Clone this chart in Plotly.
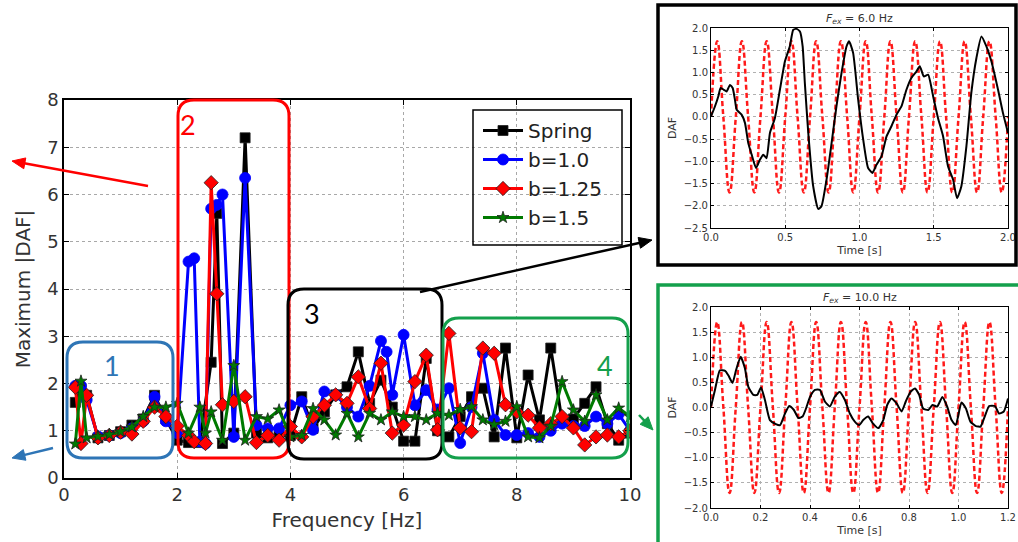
import math
import plotly.graph_objects as go

# ---------------------------------------------------------------- data
freq_hz = [0.2, 0.3, 0.4, 0.6, 0.8, 1.0, 1.2, 1.4, 1.6, 1.8, 2.0,
           2.1, 2.2, 2.3, 2.4, 2.5, 2.6, 2.7, 2.8, 2.9, 3.0, 3.1, 3.2, 3.3, 3.4,
           3.6, 3.8, 4.0, 4.2, 4.4, 4.6, 4.8, 5.0, 5.2, 5.4, 5.6, 5.7,
           5.8, 6.0, 6.2, 6.4, 6.6, 6.8, 7.0, 7.2, 7.4, 7.6, 7.8, 8.0,
           8.2, 8.4, 8.6, 8.8, 9.0, 9.2, 9.4, 9.6, 9.8, 10.0]

N = None
daf_spring = [1.6, 1.9, 1.75, 0.85, 0.9, 0.98, 1.12, 1.25, 1.75, 1.25, 0.8,
              N, 0.75, N, 0.75, N, 2.45, 5.6, 0.73, N, 0.95, N, 7.2, N, 0.95,
              0.85, 0.9, 0.9, 1.72, 1.05, 1.4, 1.76, 1.93, 2.67, 1.58, 2.07, N,
              1.5, 0.78, 0.78, 2.53, 1.0, 0.87, 1.3, 1.72, 1.9, 0.87, 2.75, 0.85,
              2.18, 1.23, 2.75, 1.2, 1.25, 1.58, 1.93, 1.15, 0.8, 0.95]
daf_b100 = [1.95, 1.95, 1.65, 0.88, 0.9, 0.95, 1.05, 1.2, 1.72, 1.2, 0.95,
            N, 4.58, 4.65, 0.77, 0.73, 5.7, 5.78, 6.0, N, 0.87, N, 6.35, N, 1.12,
            1.05, 1.05, 1.54, 1.62, 1.02, 1.83, 1.76, 1.5, 1.3, 1.95, 2.9, 2.67,
            1.76, 3.03, 1.54, 1.86, 1.45, 1.9, 0.74, 1.5, 2.64, 1.23, 0.91, 0.91,
            0.95, 0.87, 1.0, 1.15, 1.1, 1.1, 1.3, 1.15, 1.35, 1.0]
daf_b125 = [1.92, 0.73, 1.75, 0.85, 0.9, 0.97, 0.93, 1.2, 1.5, 1.3, 1.1,
            N, 0.9, 0.77, N, 0.73, 6.25, 3.9, 1.55, N, 1.62, N, 1.72, N, 0.75,
            0.9, 0.8, 1.09, 0.87, 1.3, 1.54, 1.76, 1.58, 2.14, 1.47, 2.43, N,
            0.95, 1.12, 2.04, 2.6, 1.02, 3.06, 1.06, 0.98, 2.75, 2.64, 1.55, 1.4,
            1.33, 1.06, 1.15, 1.3, 1.06, 0.7, 0.87, 0.91, 0.87, 1.0]
daf_b150 = [0.72, 2.05, 0.85, 0.88, 0.92, 0.98, 1.08, 1.3, 1.5, 1.5, 1.58,
            N, 0.95, N, 1.5, 0.95, 1.4, N, 0.8, N, 2.38, N, 0.8, N, 1.3,
            1.25, 1.44, 0.87, 0.9, 1.47, 1.23, 0.91, 1.37, 0.87, 1.37, 1.23, N,
            1.4, 1.3, 1.3, 1.23, 1.37, 1.33, 1.45, 1.51, 1.23, 1.13, 1.2, 1.51,
            0.87, 0.85, 1.1, 2.04, 1.44, 1.2, 1.76, 1.23, 1.48, 1.3]

series_names = ["Spring", "b=1.0", "b=1.25", "b=1.5"]

# time histories, F_ex = 6.0 Hz
t6_force = [0.000, 0.042, 0.083, 0.125, 0.167, 0.208, 0.250, 0.292, 0.333, 0.375,
            0.417, 0.458, 0.500, 0.542, 0.583, 0.625, 0.667, 0.708, 0.750, 0.792,
            0.833, 0.875, 0.917, 0.958, 1.000, 1.042, 1.083, 1.125, 1.167, 1.208,
            1.250, 1.292, 1.333, 1.375, 1.417, 1.458, 1.500, 1.542, 1.583, 1.625,
            1.667, 1.708, 1.750, 1.792, 1.833, 1.875, 1.917, 1.958, 2.000]
f6_force = [0, 1.7, 0, -1.7, 0, 1.7, 0, -1.7, 0, 1.7, 0, -1.7, 0, 1.7, 0, -1.7,
            0, 1.7, 0, -1.7, 0, 1.7, 0, -1.7, 0, 1.7, 0, -1.7, 0, 1.7, 0, -1.7,
            0, 1.7, 0, -1.7, 0, 1.7, 0, -1.7, 0, 1.7, 0, -1.7, 0, 1.7, 0, -1.7, 0]
t6_resp = [0.0, 0.027, 0.049, 0.065, 0.087, 0.105, 0.128, 0.146, 0.161, 0.173,
           0.206, 0.229, 0.251, 0.274, 0.303, 0.33, 0.352, 0.374, 0.397, 0.43,
           0.464, 0.498, 0.531, 0.554, 0.576, 0.599, 0.617, 0.632, 0.655, 0.688,
           0.722, 0.744, 0.778, 0.812, 0.845, 0.879, 0.913, 0.93, 0.957, 0.991,
           1.025, 1.058, 1.087, 1.114, 1.148, 1.182, 1.215, 1.249, 1.283, 1.316,
           1.35, 1.383, 1.406, 1.433, 1.462, 1.496, 1.529, 1.563, 1.596, 1.63,
           1.657, 1.686, 1.72, 1.753, 1.787, 1.821, 1.854, 1.888, 1.933, 1.966, 2.0]
f6_resp = [0.01, 0.24, 0.46, 0.65, 0.61, 0.57, 0.72, 0.65, 0.39, 0.16,
           0.05, -0.14, -0.59, -0.85, -1.15, -0.96, -0.85, -0.93, -0.36, -0.03,
           0.61, 1.25, 1.59, 1.96, 1.98, 1.92, 1.59, 0.76, -0.36, -1.56,
           -2.07, -2.01, -1.41, -0.59, 0.24, 0.99, 1.59, 1.7, 1.44, 0.39,
           -0.51, -1.15, -1.26, -1.08, -0.89, -0.44, -0.21, 0.05, 0.24, 0.61,
           0.88, 1.02, 1.14, 0.91, 0.95, 0.46, -0.03, -0.44, -1.11, -1.41,
           -1.83, -1.56, -0.66, 0.54, 1.32, 1.81, 1.59, 1.25, 0.61, 0.09, -0.36]

# time histories, F_ex = 10.0 Hz
t10_force = [0.000, 0.025, 0.050, 0.075, 0.100, 0.125, 0.150, 0.175, 0.200, 0.225,
             0.250, 0.275, 0.300, 0.325, 0.350, 0.375, 0.400, 0.425, 0.450, 0.475,
             0.500, 0.525, 0.550, 0.575, 0.600, 0.625, 0.650, 0.675, 0.700, 0.725,
             0.750, 0.775, 0.800, 0.825, 0.850, 0.875, 0.900, 0.925, 0.950, 0.975,
             1.000, 1.025, 1.050, 1.075, 1.100, 1.125, 1.150, 1.175, 1.200]
f10_force = [0, 1.7, 0, -1.7, 0, 1.7, 0, -1.7, 0, 1.7, 0, -1.7, 0, 1.7, 0, -1.7,
             0, 1.7, 0, -1.7, 0, 1.7, 0, -1.7, 0, 1.7, 0, -1.7, 0, 1.7, 0, -1.7,
             0, 1.7, 0, -1.7, 0, 1.7, 0, -1.7, 0, 1.7, 0, -1.7, 0, 1.7, 0, -1.7, 0]
t10_resp = [0.0, 0.016, 0.036, 0.057, 0.07, 0.087, 0.101, 0.12, 0.137, 0.151,
            0.171, 0.187, 0.202, 0.218, 0.238, 0.262, 0.279, 0.299, 0.316, 0.335,
            0.353, 0.37, 0.384, 0.4, 0.42, 0.44, 0.46, 0.48, 0.5, 0.52,
            0.541, 0.561, 0.581, 0.599, 0.615, 0.635, 0.653, 0.676, 0.696, 0.712,
            0.729, 0.75, 0.77, 0.787, 0.806, 0.824, 0.841, 0.857, 0.878, 0.895,
            0.914, 0.935, 0.954, 0.972, 0.989, 1.012, 1.03, 1.048, 1.07, 1.089,
            1.106, 1.124, 1.147, 1.164, 1.183, 1.2]
f10_resp = [0.02, 0.35, 0.74, 0.73, 0.64, 0.49, 0.74, 1.01, 0.78, 0.41,
            0.25, 0.25, 0.40, 0.15, -0.25, -0.33, -0.35, -0.12, 0.03, -0.05,
            -0.21, -0.18, -0.02, 0.21, 0.35, 0.35, 0.12, 0.02, 0.21, 0.31,
            0.15, -0.12, -0.28, -0.35, -0.25, -0.18, -0.31, -0.41, -0.25, 0.05,
            0.18, 0.08, -0.08, 0.12, 0.31, 0.38, 0.25, -0.02, -0.05, 0.05,
            0.02, 0.21, 0.02, -0.25, -0.35, 0.10, -0.02, -0.28, -0.37, -0.38,
            -0.18, 0.03, 0.03, -0.12, -0.08, 0.18]

# ---------------------------------------------------------------- helpers
W, H = 1018, 542


def px(x):
    return x / W


def py(y):
    return 1 - y / H


def pt(x, y):
    return f"{px(x):.5f},{py(y):.5f}"


def rounded_box(x0, y0, x1, y1, r):
    """SVG path (paper units) of a rectangle with rounded corners, given in pixels."""
    return (f"M {pt(x0 + r, y0)} L {pt(x1 - r, y0)} Q {pt(x1, y0)} {pt(x1, y0 + r)} "
            f"L {pt(x1, y1 - r)} Q {pt(x1, y1)} {pt(x1 - r, y1)} "
            f"L {pt(x0 + r, y1)} Q {pt(x0, y1)} {pt(x0, y1 - r)} "
            f"L {pt(x0, y0 + r)} Q {pt(x0, y0)} {pt(x0 + r, y0)} Z")


def arrow_shapes(tx, ty, hx, hy, color, width=2.5, head=13, half=5.5):
    """Line from tail to head plus a filled triangular head, pixel inputs."""
    dx, dy = hx - tx, hy - ty
    L = math.hypot(dx, dy)
    ux, uy = dx / L, dy / L
    bx, by = hx - ux * head, hy - uy * head
    nx, ny = -uy, ux
    line = dict(type="line", xref="paper", yref="paper",
                x0=px(tx), y0=py(ty), x1=px(bx + ux * 2), y1=py(by + uy * 2),
                line=dict(color=color, width=width))
    tri = dict(type="path", xref="paper", yref="paper",
               path=(f"M {pt(hx, hy)} L {pt(bx + nx * half, by + ny * half)} "
                     f"L {pt(bx - nx * half, by - ny * half)} Z"),
               fillcolor=color, line=dict(color=color, width=1))
    return [line, tri]


# ---------------------------------------------------------------- figure
fig = go.Figure()

styles = [
    dict(color="black", symbol="square", size=10),
    dict(color="#0000ff", symbol="circle", size=11),
    dict(color="#ff0000", symbol="diamond", size=11),
    dict(color="#007a00", symbol="star", size=9),
]
for i, (name, vals, st) in enumerate(zip(series_names,
                                         [daf_spring, daf_b100, daf_b125, daf_b150],
                                         styles)):
    fig.add_trace(go.Scatter(
        x=freq_hz, y=vals, name=name, mode="lines+markers", connectgaps=True,
        line=dict(color=st["color"], width=3),
        marker=dict(symbol=st["symbol"], size=st["size"], color=st["color"],
                    line=dict(color="#202020" if i != 1 else "#0000ff", width=0.8)),
        xaxis="x", yaxis="y",
    ))

red_dash = dict(color="#ff1a1a", width=2.5, dash="5px,3px", shape="spline", smoothing=1.3)
resp_line = dict(color="black", width=2, shape="spline", smoothing=0.5)
fig.add_trace(go.Scatter(x=t6_force, y=f6_force, mode="lines", line=red_dash,
                         showlegend=False, xaxis="x2", yaxis="y2"))
fig.add_trace(go.Scatter(x=t6_resp, y=f6_resp, mode="lines", line=resp_line,
                         showlegend=False, xaxis="x2", yaxis="y2"))
fig.add_trace(go.Scatter(x=t10_force, y=f10_force, mode="lines", line=red_dash,
                         showlegend=False, xaxis="x3", yaxis="y3"))
fig.add_trace(go.Scatter(x=t10_resp, y=f10_resp, mode="lines", line=resp_line,
                         showlegend=False, xaxis="x3", yaxis="y3"))

base_font = "DejaVu Sans, Arial, sans-serif"
main_axis = dict(showline=True, linecolor="black", linewidth=1.5, mirror="ticks",
                 ticks="inside", ticklen=5, tickcolor="black", automargin=False,
                 showgrid=True, gridcolor="#a8a8a8", griddash="dot", gridwidth=1,
                 zeroline=False, tickfont=dict(family=base_font, size=18, color="#333333"))
inset_axis = dict(showline=True, linecolor="black", linewidth=1, mirror="ticks",
                  ticks="inside", ticklen=3, tickcolor="black", automargin=False,
                  showgrid=True, gridcolor="#b0b0b0", griddash="dot", gridwidth=1,
                  zeroline=False, tickformat=".1f",
                  tickfont=dict(family=base_font, size=10, color="#333333"))

fig.update_layout(
    width=W, height=H, margin=dict(l=0, r=0, t=0, b=0, pad=0, autoexpand=False),
    paper_bgcolor="white", plot_bgcolor="white",
    font=dict(family=base_font, color="#333333"),
    xaxis=dict(main_axis, domain=[px(64), px(630)], range=[0, 10], dtick=2, anchor="y",
               title=dict(text="Frequency [Hz]", font=dict(size=20), standoff=9)),
    yaxis=dict(main_axis, domain=[py(478), py(100)], range=[0, 8], dtick=1, anchor="x",
               title=dict(text="Maximum |DAF|", font=dict(size=20), standoff=11)),
    xaxis2=dict(inset_axis, domain=[px(711), px(1008)], range=[0, 2], dtick=0.5, anchor="y2",
                title=dict(text="Time [s]", font=dict(size=11), standoff=4)),
    yaxis2=dict(inset_axis, domain=[py(228), py(28)], range=[-2.5, 2.0], dtick=0.5, anchor="x2",
                title=dict(text="DAF", font=dict(size=11), standoff=4)),
    xaxis3=dict(inset_axis, domain=[px(711), px(1008)], range=[0, 1.2], dtick=0.2, anchor="y3",
                title=dict(text="Time [s]", font=dict(size=11), standoff=4)),
    yaxis3=dict(inset_axis, domain=[py(508), py(307)], range=[-2.0, 2.0], dtick=0.5, anchor="x3",
                title=dict(text="DAF", font=dict(size=11), standoff=4)),
    legend=dict(x=px(478), y=py(111), xanchor="left", yanchor="top",
                bgcolor="rgba(0,0,0,0)", borderwidth=0,
                font=dict(family=base_font, size=20, color="#222222"),
                itemwidth=40),
)

# legend frame, inset frames and highlighted regions
shapes = [
    dict(type="rect", xref="paper", yref="paper", x0=px(473), x1=px(622), y0=py(245), y1=py(110),
         line=dict(color="black", width=1.5), fillcolor="rgba(0,0,0,0)"),
    dict(type="rect", xref="paper", yref="paper", x0=px(658), x1=px(1016), y0=py(265), y1=py(5),
         line=dict(color="black", width=3.5)),
    dict(type="path", xref="paper", yref="paper",
         path=f"M {pt(658, 542)} L {pt(658, 285)} L {pt(1018, 285)}",
         line=dict(color="#14a04c", width=3.5)),
]
regions = [
    ((67, 342, 173, 458), "#2e75b6"),
    ((178, 100, 289, 458), "#ff0000"),
    ((288, 289, 442, 459), "black"),
    ((443, 318, 628, 458), "#14a04c"),
]
for (x0, y0, x1, y1), col in regions:
    shapes.append(dict(type="path", xref="paper", yref="paper",
                       path=rounded_box(x0, y0, x1, y1, 16),
                       line=dict(color=col, width=3)))

arrows = [
    ((148, 186), (12, 161), "#ff0000"),
    ((53, 448), (12, 458), "#2e75b6"),
    ((420, 292), (652, 240), "black"),
    ((639, 415), (653, 430), "#14a04c"),
]
for (tx, ty), (hx, hy), col in arrows:
    shapes.extend(arrow_shapes(tx, ty, hx, hy, col))
fig.update_layout(shapes=shapes)

annotations = []
labels = [("1", 112, 365, "#2e75b6"), ("2", 188, 124, "#ff0000"),
          ("3", 312, 313, "black"), ("4", 605, 365, "#14a04c")]
for txt, x, y, col in labels:
    annotations.append(dict(text=txt, x=px(x), y=py(y), xref="paper", yref="paper",
                            showarrow=False, xanchor="center", yanchor="middle",
                            font=dict(family="Lato, sans-serif", size=27, color=col)))

for txt, y in [("<i>F<sub>ex</sub></i> = 6.0 Hz", 19), ("<i>F<sub>ex</sub></i> = 10.0 Hz", 298)]:
    annotations.append(dict(text=txt, x=px(859.5), y=py(y), xref="paper", yref="paper",
                            showarrow=False, xanchor="center", yanchor="middle",
                            font=dict(family=base_font, size=11, color="#333333")))
fig.update_layout(annotations=annotations)

fig.write_html("out.html")
